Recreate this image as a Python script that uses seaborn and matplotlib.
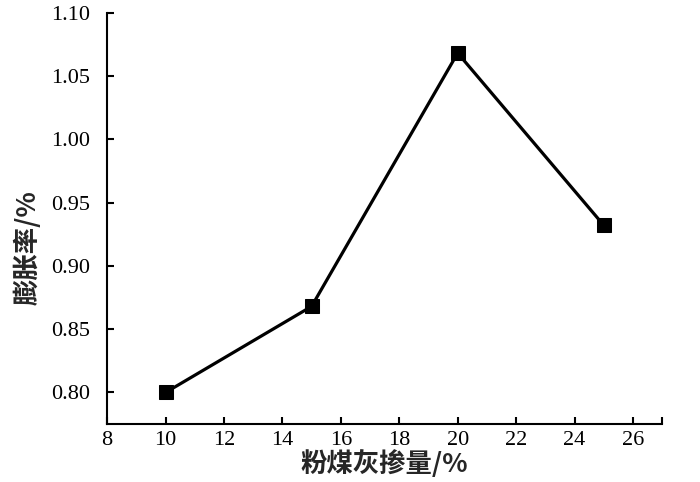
import matplotlib
matplotlib.use('Agg')
import matplotlib.pyplot as plt
import seaborn as sns
import pandas as pd
from matplotlib.ticker import MultipleLocator, FixedLocator

# Data
fly_ash = [10, 15, 20, 25]
expansion = [0.800, 0.868, 1.068, 0.932]

x_label = '粉煤灰掺量/%'
y_label = '膨胀率/%'

sns.set_style('ticks')
plt.rcParams['font.family'] = ['Liberation Serif', 'DejaVu Serif']

df = pd.DataFrame({'x': fly_ash, 'y': expansion})

fig = plt.figure(figsize=(7, 4.82), dpi=100)
ax = fig.add_axes([0.153, 0.12, 0.793, 0.854])

sns.lineplot(data=df, x='x', y='y', ax=ax, color='black', linewidth=2.3,
             marker='s', markersize=10, markeredgecolor='black',
             markerfacecolor='black')

ax.set_xlim(8, 27)
ax.set_ylim(0.775, 1.10)
ax.xaxis.set_major_locator(MultipleLocator(2))
ax.xaxis.set_minor_locator(FixedLocator([27]))
ax.yaxis.set_major_locator(MultipleLocator(0.05))
ax.yaxis.set_major_formatter(plt.FormatStrFormatter('%.2f'))

ax.tick_params(axis='both', which='both', direction='in', length=5, width=1.5,
               labelsize=16, colors='black')
ax.tick_params(axis='x', pad=5)
ax.tick_params(axis='y', pad=12)

for side in ['top', 'right']:
    ax.spines[side].set_visible(False)
for side in ['left', 'bottom']:
    ax.spines[side].set_linewidth(1.5)
    ax.spines[side].set_color('black')

cjk = ['Noto Sans CJK SC', 'DejaVu Sans']
ax.set_xlabel(x_label, fontsize=19, fontweight='bold', family=cjk, labelpad=0)
ax.set_ylabel(y_label, fontsize=19, fontweight='bold', family=cjk)
# label sits a bit below the axis middle in the original
ax.yaxis.set_label_coords(-0.118, 0.43)

fig.savefig('out.png', dpi=100)
plt.close(fig)
